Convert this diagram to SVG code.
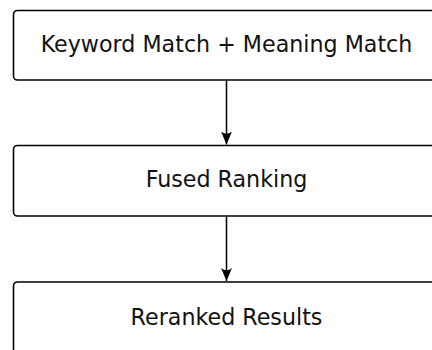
<svg xmlns="http://www.w3.org/2000/svg" width="432" height="350" viewBox="0 0 432 350">
  <style>
    .box { fill: #ffffff; stroke: #000000; stroke-width: 1.6; }
    .label { font-family: "DejaVu Sans", sans-serif; font-size: 22.2px; fill: #111111; text-anchor: middle; }
    .edge { stroke: #000000; stroke-width: 1.5; fill: none; }
  </style>
  <defs>
    <marker id="arrow" viewBox="0 0 13 11" refX="13" refY="5.5" markerWidth="13" markerHeight="11" markerUnits="userSpaceOnUse" orient="auto">
      <path d="M13,5.5 L0,0 Q4.5,5.5 0,11 Z" fill="#000000"/>
    </marker>
  </defs>
  <rect width="432" height="350" fill="#ffffff"/>
  <g id="connectors">
    <line class="edge" x1="226.5" y1="80" x2="226.5" y2="144.5" marker-end="url(#arrow)"/>
    <line class="edge" x1="226.5" y1="216" x2="226.5" y2="281" marker-end="url(#arrow)"/>
  </g>
  <g id="keyword-meaning">
    <rect class="box" x="13.5" y="10.5" width="427" height="69.5" rx="4"/>
    <text class="label" x="226.5" y="52">Keyword Match + Meaning Match</text>
  </g>
  <g id="fused-ranking">
    <rect class="box" x="13.5" y="145.5" width="427" height="70.5" rx="4"/>
    <text class="label" x="226.5" y="187">Fused Ranking</text>
  </g>
  <g id="reranked-results">
    <rect class="box" x="13.5" y="282" width="427" height="71" rx="4"/>
    <text class="label" x="226.5" y="325">Reranked Results</text>
  </g>
</svg>
